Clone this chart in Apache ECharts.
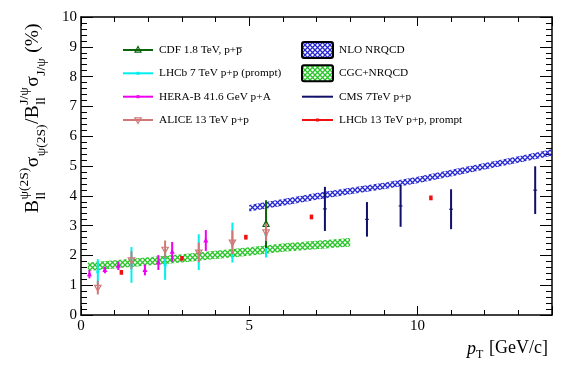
<!DOCTYPE html>
<html>
<head>
<meta charset="utf-8">
<title>psi(2S) / J/psi ratio</title>
<style>body{margin:0;background:#fff}</style>
</head>
<body>
<div id="main" style="width:581px;height:375px;"></div>
<script src="https://cdn.jsdelivr.net/npm/echarts@6/dist/echarts.min.js"></script>
<script>
var FONT = '"Liberation Serif", "Times New Roman", serif';

// CDF 1.8 TeV p+pbar
var cdfX = [5.5];
var cdfY = [3.05];
var cdfErr = [0.80];
// LHCb 7 TeV p+p (prompt)
var lhcb7X = [0.5, 1.5, 2.5, 3.5, 4.5, 5.5];
var lhcb7Y = [1.45, 1.68, 1.68, 2.11, 2.43, 2.70];
var lhcb7Err = [0.42, 0.60, 0.50, 0.60, 0.67, 0.77];
// HERA-B 41.6 GeV p+A
var herabX = [0.25, 0.71, 1.11, 1.9, 2.3, 2.71, 3.71];
var herabY = [1.37, 1.51, 1.65, 1.51, 1.76, 2.12, 2.50];
var herabErr = [0.14, 0.11, 0.14, 0.18, 0.25, 0.33, 0.35];
// ALICE 13 TeV p+p
var aliceX = [0.5, 1.5, 2.5, 3.5, 4.5, 5.5];
var aliceY = [0.92, 1.84, 2.20, 2.10, 2.44, 2.78];
var aliceErr = [0.23, 0.30, 0.30, 0.33, 0.40, 0.30];
// CMS 7 TeV p+p
var cmsX = [7.25, 8.5, 9.5, 11.0, 13.5];
var cmsY = [3.56, 3.21, 3.66, 3.55, 4.19];
var cmsErr = [0.74, 0.58, 0.70, 0.67, 0.80];
// LHCb 13 TeV p+p, prompt
var lhcb13X = [1.2, 3.0, 4.9, 6.85, 10.4];
var lhcb13Y = [1.43, 1.90, 2.61, 3.29, 3.93];
var lhcb13Err = [0.08, 0.08, 0.08, 0.08, 0.08];

// NLO NRQCD band
var nloX = [5, 6, 7, 8, 9, 10, 11, 12, 13, 14];
var nloLow = [3.47, 3.67, 3.87, 4.05, 4.22, 4.42, 4.65, 4.88, 5.11, 5.34];
var nloHigh = [3.69, 3.89, 4.09, 4.27, 4.44, 4.64, 4.87, 5.10, 5.33, 5.56];
// CGC+NRQCD band
var cgcX = [0.2, 1, 2, 3, 4, 5, 6, 7, 8];
var cgcLow = [1.48, 1.56, 1.66, 1.76, 1.88, 1.99, 2.12, 2.21, 2.30];
var cgcHigh = [1.76, 1.84, 1.94, 2.04, 2.16, 2.27, 2.40, 2.49, 2.58];

var xTicks = [0, 5, 10];
var yTicks = [0, 1, 2, 3, 4, 5, 6, 7, 8, 9, 10];

var C = {
    cdf: '#0a640a', lhcb7: '#00f0f0', herab: '#f000f0', alice: '#d07878',
    cms: '#10106a', lhcb13: '#f01010', nlo: '#2828d0', cgc: '#28c428'
};

function hatch(color) {
    var c = document.createElement('canvas');
    c.width = 5; c.height = 5;
    var g = c.getContext('2d');
    g.strokeStyle = color;
    g.lineWidth = 1.3;
    g.beginPath();
    g.moveTo(0, 0); g.lineTo(5, 5);
    g.moveTo(5, 0); g.lineTo(0, 5);
    g.stroke();
    return c;
}
var nloFill = { image: hatch(C.nlo), repeat: 'repeat' };
var cgcFill = { image: hatch(C.cgc), repeat: 'repeat' };

function markerEl(kind, x, y, col) {
    if (kind == 'triUp') {
        return { type: 'polygon', shape: { points: [[x, y - 3.5], [x - 3, y + 2.2], [x + 3, y + 2.2]] },
            style: { fill: 'none', stroke: col, lineWidth: 1.2 } };
    }
    if (kind == 'triDown') {
        return { type: 'polygon', shape: { points: [[x, y + 3.5], [x - 3.2, y - 2.2], [x + 3.2, y - 2.2]] },
            style: { fill: 'none', stroke: col, lineWidth: 1.2 } };
    }
    if (kind == 'triFill') {
        return { type: 'polygon', shape: { points: [[x, y - 3], [x - 2.5, y + 2], [x + 2.5, y + 2]] },
            style: { fill: col } };
    }
    if (kind == 'square') {
        return { type: 'rect', shape: { x: x - 1.5, y: y - 1.5, width: 3, height: 3 }, style: { fill: col } };
    }
    if (kind == 'dash') {
        return { type: 'line', shape: { x1: x - 2, y1: y, x2: x + 2, y2: y }, style: { stroke: col, lineWidth: 1 } };
    }
    return null;
}

function errRender(kind, lw) {
    return function (params, api) {
        var x = api.value(0), y = api.value(1), e = api.value(2);
        var top = api.coord([x, y + e]);
        var bot = api.coord([x, y - e]);
        var p = api.coord([x, y]);
        var col = api.visual('color');
        var kids = [{ type: 'line', shape: { x1: top[0], y1: top[1], x2: bot[0], y2: bot[1] },
            style: { stroke: col, lineWidth: lw } }];
        var m = markerEl(kind, p[0], p[1], col);
        if (m) kids.push(m);
        return { type: 'group', children: kids };
    };
}

function errSeries(name, xs, ys, es, color, kind, lw) {
    return {
        name: name, type: 'custom', xAxisIndex: 0, yAxisIndex: 0,
        renderItem: errRender(kind, lw),
        itemStyle: { color: color },
        encode: { x: 0, y: 1 },
        data: xs.map(function (x, i) { return [x, ys[i], es[i]]; }),
        z: 5
    };
}

// band: one polygon through the upper edge and back along the lower edge
function bandSeries(name, xs, lo, hi, fill, color) {
    return {
        name: name, type: 'custom', xAxisIndex: 0, yAxisIndex: 0,
        itemStyle: { color: color },
        encode: { x: 0, y: [1, 2] },
        data: xs.map(function (x, i) { return [x, lo[i], hi[i]]; }),
        renderItem: function (params, api) {
            if (params.dataIndex !== 0) return null;
            var pts = [];
            for (var i = 0; i < xs.length; i++) pts.push(api.coord([xs[i], hi[i]]));
            for (var j = xs.length - 1; j >= 0; j--) pts.push(api.coord([xs[j], lo[j]]));
            return { type: 'polygon', shape: { points: pts }, style: { fill: fill } };
        },
        z: 2
    };
}

// text measuring for the composed axis title
var mctx = document.createElement('canvas').getContext('2d');
function tw(t, size) {
    mctx.font = size + 'px ' + FONT;
    return mctx.measureText(t).width;
}

// y title: B_ll^psi(2S) sigma_psi(2S) / B_ll^J/psi sigma_J/psi (%)
var YM = 19.5, YS = 13.5;
var yParts = [['B', 'm'], ['\u03c8(2S)', 'sup', 'll'], ['\u03c3', 'm'], ['\u03c8(2S)', 'sub'], ['/', 'm'],
    ['B', 'm'], ['J/\u03c8', 'sup', 'll'], ['\u03c3', 'm'], ['J/\u03c8', 'sub'], [' (%)', 'm']];
var yTitle = [];
var pos = 0;
var yOff = { m: 33, sup: 24, sub: 41 };
yParts.forEach(function (p) {
    var size = p[1] == 'm' ? YM : YS;
    yTitle.push({ type: 'text', x: pos, y: yOff[p[1]],
        style: { text: p[0], font: size + 'px ' + FONT, fill: '#000', align: 'left', verticalAlign: 'middle' } });
    var w = tw(p[0], size);
    if (p[2]) {
        yTitle.push({ type: 'text', x: pos, y: yOff.sub,
            style: { text: p[2], font: YS + 'px ' + FONT, fill: '#000', align: 'left', verticalAlign: 'middle' } });
        w = Math.max(w, tw(p[2], YS));
    }
    pos += w + 0.5;
});

// legend entries
var legLeft = [
    ['CDF 1.8 TeV, p+p\u0305', C.cdf, 'triUp'],
    ['LHCb 7 TeV p+p (prompt)', C.lhcb7, 'square'],
    ['HERA-B 41.6 GeV p+A', C.herab, 'square'],
    ['ALICE 13 TeV p+p', C.alice, 'triDown']
];
var legRight = [
    ['NLO NRQCD', C.nlo, 'box', nloFill],
    ['CGC+NRQCD', C.cgc, 'box', cgcFill],
    ['CMS 7TeV p+p', C.cms, 'dash'],
    ['LHCb 13 TeV p+p, prompt', C.lhcb13, 'square']
];
var legRowY = [50, 73.3, 96.7, 120];
var legend = [];
function addLegend(list, x0, w) {
    list.forEach(function (it, i) {
        var y = legRowY[i];
        if (it[2] == 'box') {
            legend.push({ type: 'rect', shape: { x: x0, y: y - 8, width: w, height: 16, r: 2 },
                style: { fill: it[3], stroke: '#000', lineWidth: 2 } });
        } else {
            legend.push({ type: 'line', shape: { x1: x0, y1: y, x2: x0 + w, y2: y },
                style: { stroke: it[1], lineWidth: 2 } });
            var m = markerEl(it[2], x0 + w / 2, y, it[1]);
            if (m) legend.push(m);
        }
        legend.push({ type: 'text', x: x0 + w + 6, y: y,
            style: { text: it[0], font: '11.3px ' + FONT, fill: '#000', verticalAlign: 'middle' } });
    });
}
addLegend(legLeft, 123, 30);
addLegend(legRight, 302, 31);

var tickFont = { fontSize: 15, fontFamily: FONT, color: '#000' };

function xAxisDef(position, interval, len, labels) {
    return {
        type: 'value', position: position, min: 0, max: 14, interval: interval,
        axisLine: { show: interval == 1, onZero: false, lineStyle: { color: '#000', width: 1.5 } },
        axisTick: { show: true, inside: true, length: len, lineStyle: { color: '#000', width: 1 } },
        axisLabel: labels ? Object.assign({
            margin: 4, showMaxLabel: false,
            formatter: function (v) { return xTicks.indexOf(v) >= 0 ? String(v) : ''; }
        }, tickFont) : { show: false },
        splitLine: { show: false }
    };
}
function yAxisDef(position, labels) {
    return {
        type: 'value', position: position, min: 0, max: 10, interval: 1,
        axisLine: { show: true, onZero: false, lineStyle: { color: '#000', width: 1.5 } },
        axisTick: { show: true, inside: true, length: 12, lineStyle: { color: '#000', width: 1 } },
        minorTick: { show: true, splitNumber: 5, length: 6, lineStyle: { color: '#000', width: 1 } },
        axisLabel: labels ? Object.assign({
            margin: 4,
            formatter: function (v) { return yTicks.indexOf(v) >= 0 ? String(v) : ''; }
        }, tickFont) : { show: false },
        splitLine: { show: false }
    };
}

var series = [
    bandSeries('CGC+NRQCD', cgcX, cgcLow, cgcHigh, cgcFill, C.cgc),
    bandSeries('NLO NRQCD', nloX, nloLow, nloHigh, nloFill, C.nlo),
    errSeries('LHCb 7 TeV p+p (prompt)', lhcb7X, lhcb7Y, lhcb7Err, C.lhcb7, 'square', 2),
    errSeries('CDF 1.8 TeV, p+pbar', cdfX, cdfY, cdfErr, C.cdf, 'triUp', 2),
    errSeries('HERA-B 41.6 GeV p+A', herabX, herabY, herabErr, C.herab, 'triFill', 2),
    errSeries('ALICE 13 TeV p+p', aliceX, aliceY, aliceErr, C.alice, 'triDown', 2),
    errSeries('CMS 7TeV p+p', cmsX, cmsY, cmsErr, C.cms, 'dash', 2),
    errSeries('LHCb 13 TeV p+p, prompt', lhcb13X, lhcb13Y, lhcb13Err, C.lhcb13, null, 3.5)
];

var chart = echarts.init(document.getElementById('main'));
chart.setOption({
    animation: false,
    backgroundColor: '#fff',
    grid: { left: 81, right: 29, top: 17, bottom: 60 },
    xAxis: [
        xAxisDef('bottom', 1, 5, true),
        xAxisDef('bottom', 5, 9, false),
        xAxisDef('top', 1, 5, false),
        xAxisDef('top', 5, 9, false)
    ],
    yAxis: [yAxisDef('left', true), yAxisDef('right', false)],
    series: series,
    graphic: [
        { type: 'group', x: 0, y: 213, rotation: Math.PI / 2, children: yTitle },
        { type: 'text', x: 467, y: 349, style: { text: 'p', font: 'italic 18px ' + FONT, fill: '#000', verticalAlign: 'middle' } },
        { type: 'text', x: 476, y: 355, style: { text: 'T', font: '12px ' + FONT, fill: '#000', verticalAlign: 'middle' } },
        { type: 'text', x: 489, y: 348, style: { text: '[GeV/c]', font: '18px ' + FONT, fill: '#000', verticalAlign: 'middle' } }
    ].concat(legend)
});
</script>
</body>
</html>
